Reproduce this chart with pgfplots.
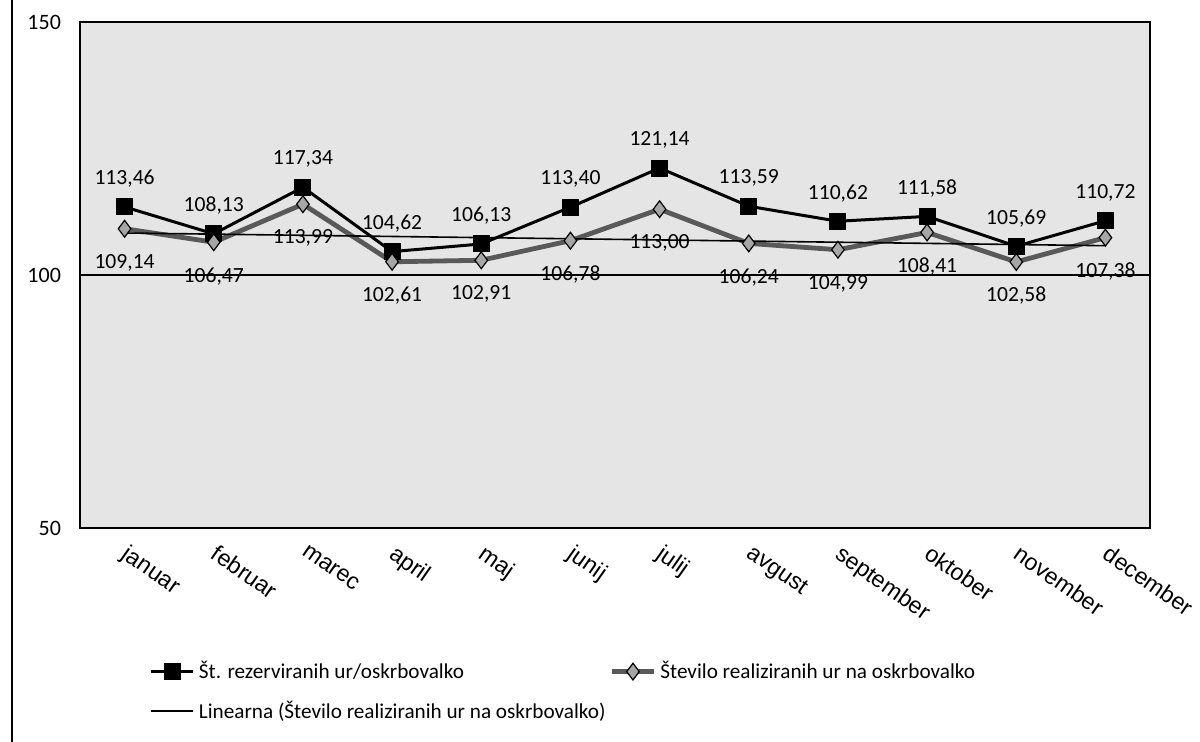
\documentclass[border=0pt]{standalone}
\usepackage{fontspec}
\setmainfont{Carlito}
\newfontfamily\arialfont{Liberation Sans}
\usepackage{pgfplots}
\pgfplotsset{compat=1.18}
\pgfkeys{/pgf/number format/assume math mode=true}

\begin{document}
\begin{tikzpicture}
\path[use as bounding box] (-40pt,-107pt) rectangle (560pt,264pt);
\draw[line width=1pt] (-34pt,-107pt) -- (-34pt,264pt);
\begin{axis}[
  at={(0,0)}, anchor=south west,
  scale only axis, width=535pt, height=253pt,
  xmin=0.5, xmax=12.5, ymin=50, ymax=150,
  xtick={1,...,12},
  xticklabels={januar,februar,marec,april,maj,junij,julij,avgust,september,oktober,november,december},
  ytick={50,100,150},
  tick style={draw=none},
  axis background/.style={fill=black!10},
  axis line style={line width=0.9pt},
  yticklabel style={font=\fontsize{11}{12}\selectfont, xshift=-6pt},
  xticklabel style={font=\arialfont\fontsize{11.6}{13}\selectfont, anchor=north west, xshift=2pt, yshift=-3pt, rotate=-35},
  legend columns=2,
  legend cell align=left,
  legend image code/.code={\draw[mark repeat=2,mark phase=2,#1] plot coordinates {(0pt,0pt) (10.5pt,0pt) (21pt,0pt)};},
  legend style={draw=none, fill=none, at={(0.065,-0.255)}, anchor=north west, inner sep=0pt,
    font=\fontsize{10.6}{13}\selectfont,
    /tikz/every even column/.append style={column sep=0pt}, row sep=5.5pt},
  clip=false,
]
\addplot[black, line width=0.6pt, forget plot] coordinates {(0.5,100) (12.5,100)};
\addplot[black, line width=1.5pt, mark=square*, mark size=3.5pt, mark options={solid},
  nodes near coords={\pgfmathprintnumber[fixed,fixed zerofill,precision=2,use comma]{\pgfplotspointmeta}},
  every node near coord/.append style={font=\fontsize{10.8}{12}\selectfont, anchor=center, inner sep=0pt, yshift=14pt, black}]
  coordinates {(1,113.46) (2,108.13) (3,117.34) (4,104.62) (5,106.13) (6,113.40) (7,121.14) (8,113.59) (9,110.62) (10,111.58) (11,105.69) (12,110.72)};
\addlegendentry{Št. rezerviranih ur/oskrbovalko}
\addplot[black!65, line width=2.4pt, mark=diamond*, mark size=4.2pt, mark options={solid, fill=black!35, draw=black, line width=0.6pt},
  nodes near coords={\pgfmathprintnumber[fixed,fixed zerofill,precision=2,use comma]{\pgfplotspointmeta}},
  every node near coord/.append style={font=\fontsize{10.8}{12}\selectfont, anchor=center, inner sep=0pt, yshift=-17pt, black}]
  coordinates {(1,109.14) (2,106.47) (3,113.99) (4,102.61) (5,102.91) (6,106.78) (7,113.00) (8,106.24) (9,104.99) (10,108.41) (11,102.58) (12,107.38)};
\addlegendentry{Število realiziranih ur na oskrbovalko}
\addplot[black, line width=0.8pt] coordinates {(1,108.30) (12,105.79)};
\addlegendentry{Linearna (Število realiziranih ur na oskrbovalko)}
\end{axis}
\end{tikzpicture}
\end{document}
